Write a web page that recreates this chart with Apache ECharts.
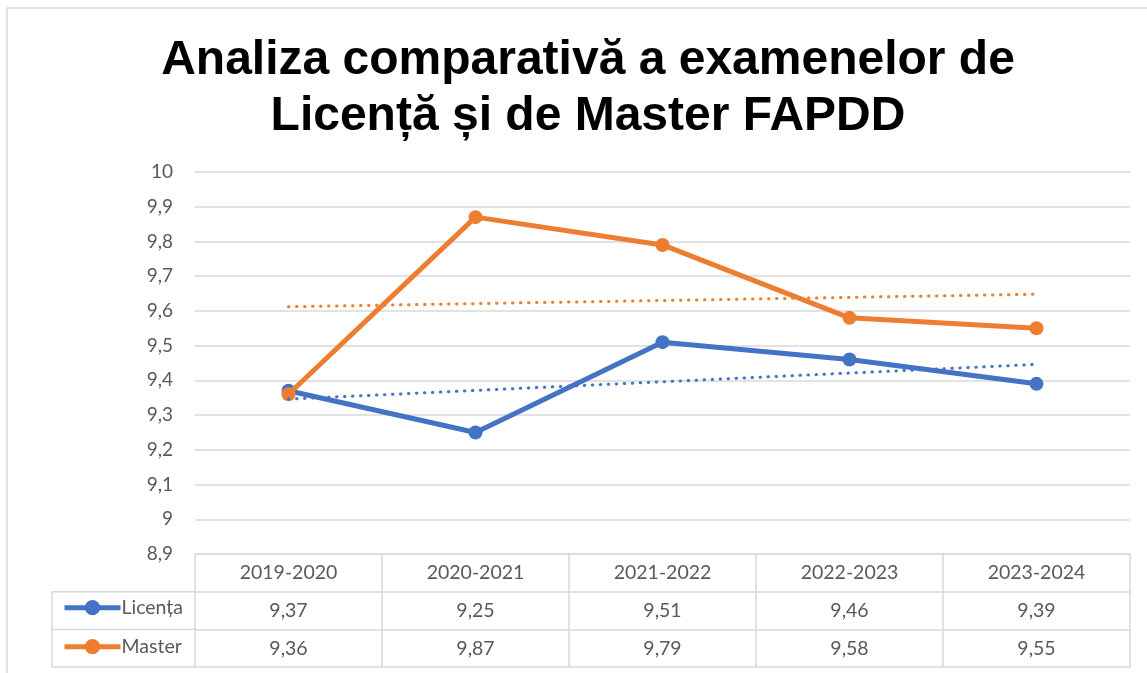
<!DOCTYPE html>
<html>
<head>
<meta charset="utf-8">
<script src="https://cdn.jsdelivr.net/npm/echarts@6/dist/echarts.min.js"></script>
<style>
  html, body { margin: 0; padding: 0; background: #fff; }
  #chart { width: 1147px; height: 673px; }
</style>
</head>
<body>
<div id="chart"></div>
<script>
// date
const years = ['2019-2020', '2020-2021', '2021-2022', '2022-2023', '2023-2024']
const licenta = [9.37, 9.25, 9.51, 9.46, 9.39]
const master = [9.36, 9.87, 9.79, 9.58, 9.55]
// linii de tendinta
const licentaTrend = [9.346, 9.371, 9.396, 9.421, 9.446]
const masterTrend = [9.612, 9.621, 9.630, 9.639, 9.648]

const BLUE = '#4472C4'
const ORANGE = '#ED7D31'
const TEXT = '#595959'
const LINE = '#D9D9D9'
const FONT = 'Lato, "Open Sans", sans-serif'

const fmt = v => String(Number(v.toFixed(2))).replace('.', ',')

// pozitii tabel
const gridLeft = 195, gridTop = 172, gridW = 935, gridH = 382
const rowH = 37.7
const tableLeft = 52

const chart = echarts.init(document.getElementById('chart'))

const tableAxis = (offset, values, showLabel) => ({
  type: 'category',
  data: years,
  position: 'bottom',
  offset: offset,
  axisLine: { show: true, lineStyle: { color: LINE, width: 1.5 } },
  axisTick: { show: false },
  axisLabel: {
    show: showLabel,
    margin: 9,
    color: TEXT,
    fontSize: 19.5,
    fontFamily: FONT,
    interval: 0,
    formatter: (v, i) => values ? fmt(values[i]) : v
  },
  splitLine: { show: false }
})

chart.setOption({
  animation: false,
  title: {
    text: 'Analiza comparativă a examenelor de\nLicență și de Master FAPDD',
    left: 583,
    top: 28,
    textAlign: 'center',
    textStyle: {
      fontFamily: '"Liberation Sans", Arial, sans-serif',
      fontWeight: 'bold',
      fontSize: 48,
      lineHeight: 56,
      color: '#000'
    }
  },
  legend: {
    data: ['Licența', 'Master'],
    orient: 'vertical',
    left: 57,
    top: gridTop + gridH + rowH + 1,
    itemWidth: 56,
    itemHeight: 19,
    itemGap: 19,
    lineStyle: { width: 5 },
    textStyle: { color: TEXT, fontSize: 19.5, fontFamily: FONT, padding: [0, 0, 0, -4] }
  },
  grid: { left: gridLeft, top: gridTop, width: gridW, height: gridH },
  xAxis: [
    {
      type: 'category',
      data: years,
      position: 'bottom',
      boundaryGap: true,
      axisLine: { show: true, lineStyle: { color: LINE, width: 1.5 } },
      axisTick: {
        show: true,
        interval: 0,
        length: rowH * 3,
        lineStyle: { color: LINE, width: 1.5 }
      },
      axisLabel: { margin: 9, color: TEXT, fontSize: 19.5, fontFamily: FONT, interval: 0 },
      splitLine: { show: false }
    },
    tableAxis(rowH, licenta, true),
    tableAxis(rowH * 2, master, true),
    tableAxis(rowH * 3, null, false)
  ],
  yAxis: {
    type: 'value',
    min: 8.9,
    max: 10,
    interval: 0.1,
    axisLine: { show: false },
    axisTick: { show: false },
    axisLabel: {
      margin: 22,
      color: TEXT,
      fontSize: 19,
      fontFamily: FONT,
      formatter: v => String(Number(v.toFixed(1))).replace('.', ',')
    },
    splitLine: { lineStyle: { color: LINE, width: 1.5 } }
  },
  graphic: [
    {
      type: 'rect',
      shape: { x: 7, y: 8, width: 1300, height: 800 },
      style: { fill: 'none', stroke: LINE, lineWidth: 1.5 },
      silent: true
    },
    {
      type: 'polyline',
      shape: {
        points: [
          [gridLeft, gridTop + gridH + rowH],
          [tableLeft, gridTop + gridH + rowH],
          [tableLeft, gridTop + gridH + rowH * 3],
          [gridLeft, gridTop + gridH + rowH * 3]
        ]
      },
      style: { stroke: LINE, lineWidth: 1.5, fill: 'none' },
      silent: true
    },
    {
      type: 'line',
      shape: {
        x1: tableLeft, y1: gridTop + gridH + rowH * 2,
        x2: gridLeft, y2: gridTop + gridH + rowH * 2
      },
      style: { stroke: LINE, lineWidth: 1.5 },
      silent: true
    }
  ],
  series: [
    {
      name: 'Licența',
      type: 'line',
      data: licenta,
      symbol: 'circle',
      symbolSize: 14,
      itemStyle: { color: BLUE },
      lineStyle: { color: BLUE, width: 5 },
      z: 3
    },
    {
      name: 'Master',
      type: 'line',
      data: master,
      symbol: 'circle',
      symbolSize: 14,
      itemStyle: { color: ORANGE },
      lineStyle: { color: ORANGE, width: 5 },
      z: 4
    },
    {
      name: 'Tendință Licența',
      type: 'line',
      data: licentaTrend,
      symbol: 'none',
      lineStyle: { color: BLUE, width: 3, type: [0.5, 7.5], cap: 'round' },
      z: 5
    },
    {
      name: 'Tendință Master',
      type: 'line',
      data: masterTrend,
      symbol: 'none',
      lineStyle: { color: ORANGE, width: 3, type: [0.5, 7.5], cap: 'round' },
      z: 5
    }
  ]
})
</script>
</body>
</html>
